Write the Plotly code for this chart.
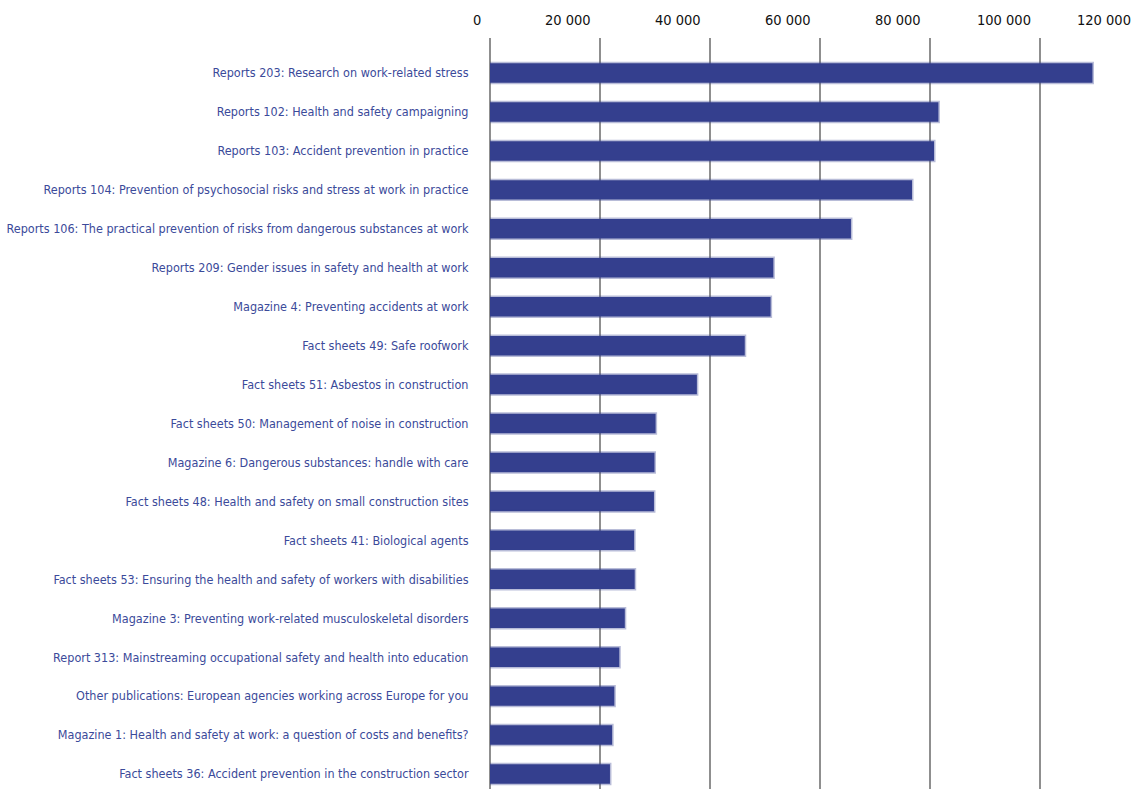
import plotly.graph_objects as go

categories = [
    "Reports 203: Research on work-related stress",
    "Reports 102: Health and safety campaigning",
    "Reports 103: Accident prevention in practice",
    "Reports 104: Prevention of psychosocial risks and stress at work in practice",
    "Reports 106: The practical prevention of risks from dangerous substances at work",
    "Reports 209: Gender issues in safety and health at work",
    "Magazine 4: Preventing accidents at work",
    "Fact sheets 49: Safe roofwork",
    "Fact sheets 51: Asbestos in construction",
    "Fact sheets 50: Management of noise in construction",
    "Magazine 6: Dangerous substances: handle with care",
    "Fact sheets 48: Health and safety on small construction sites",
    "Fact sheets 41: Biological agents",
    "Fact sheets 53: Ensuring the health and safety of workers with disabilities",
    "Magazine 3: Preventing work-related musculoskeletal disorders",
    "Report 313: Mainstreaming occupational safety and health into education",
    "Other publications: European agencies working across Europe for you",
    "Magazine 1: Health and safety at work: a question of costs and benefits?",
    "Fact sheets 36: Accident prevention in the construction sector",
]
values = [109500, 81500, 80700, 76700, 65600, 51500, 51000, 46300, 37600,
          30100, 29900, 29800, 26200, 26300, 24500, 23500, 22600, 22200, 21800]
tick_values = [0, 20000, 40000, 60000, 80000, 100000, 120000]
tick_labels = ["0", "20 000", "40 000", "60 000", "80 000", "100 000", "120 000"]

XMAX = 118500
FONT = "DejaVu Sans Condensed, Liberation Sans Narrow, sans-serif"

fig = go.Figure()
fig.add_trace(go.Bar(
    y=categories, x=values, orientation="h", width=0.5,
    marker=dict(color="#343f8e", line=dict(color="rgba(52,63,142,0.35)", width=3)),
    hoverinfo="x+y",
))

annotations = []
for v, t in zip(tick_values, tick_labels):
    annotations.append(dict(
        x=v / XMAX, xref="paper", y=1, yref="paper", text=t, showarrow=False,
        xanchor="right", yanchor="bottom",
        xshift=-17 if v > XMAX else -7, yshift=8,
        font=dict(family=FONT, size=14.5, color="#111111"),
    ))

fig.update_layout(
    width=1142, height=789,
    margin=dict(l=490, r=0, t=38, b=0),
    paper_bgcolor="white", plot_bgcolor="white",
    showlegend=False,
    annotations=annotations,
    xaxis=dict(
        range=[0, XMAX], tickvals=tick_values, showticklabels=False,
        showgrid=True, gridcolor="#8f8f8f", gridwidth=2,
        zeroline=True, zerolinecolor="#8f8f8f", zerolinewidth=2,
        showline=False, fixedrange=True, automargin=False,
    ),
    yaxis=dict(
        type="category", categoryorder="array", categoryarray=categories,
        range=[18.385, -0.9], showgrid=False, zeroline=False, showline=False,
        ticks="outside", ticklen=18, tickcolor="rgba(0,0,0,0)",
        tickfont=dict(family=FONT, size=12.5, color="#3b4a9a"),
        fixedrange=True, automargin=False,
    ),
)

fig.write_html(
    "out.html",
    config={"displayModeBar": False},
    post_script="document.body.style.margin='0px';document.body.style.overflow='hidden';",
)
